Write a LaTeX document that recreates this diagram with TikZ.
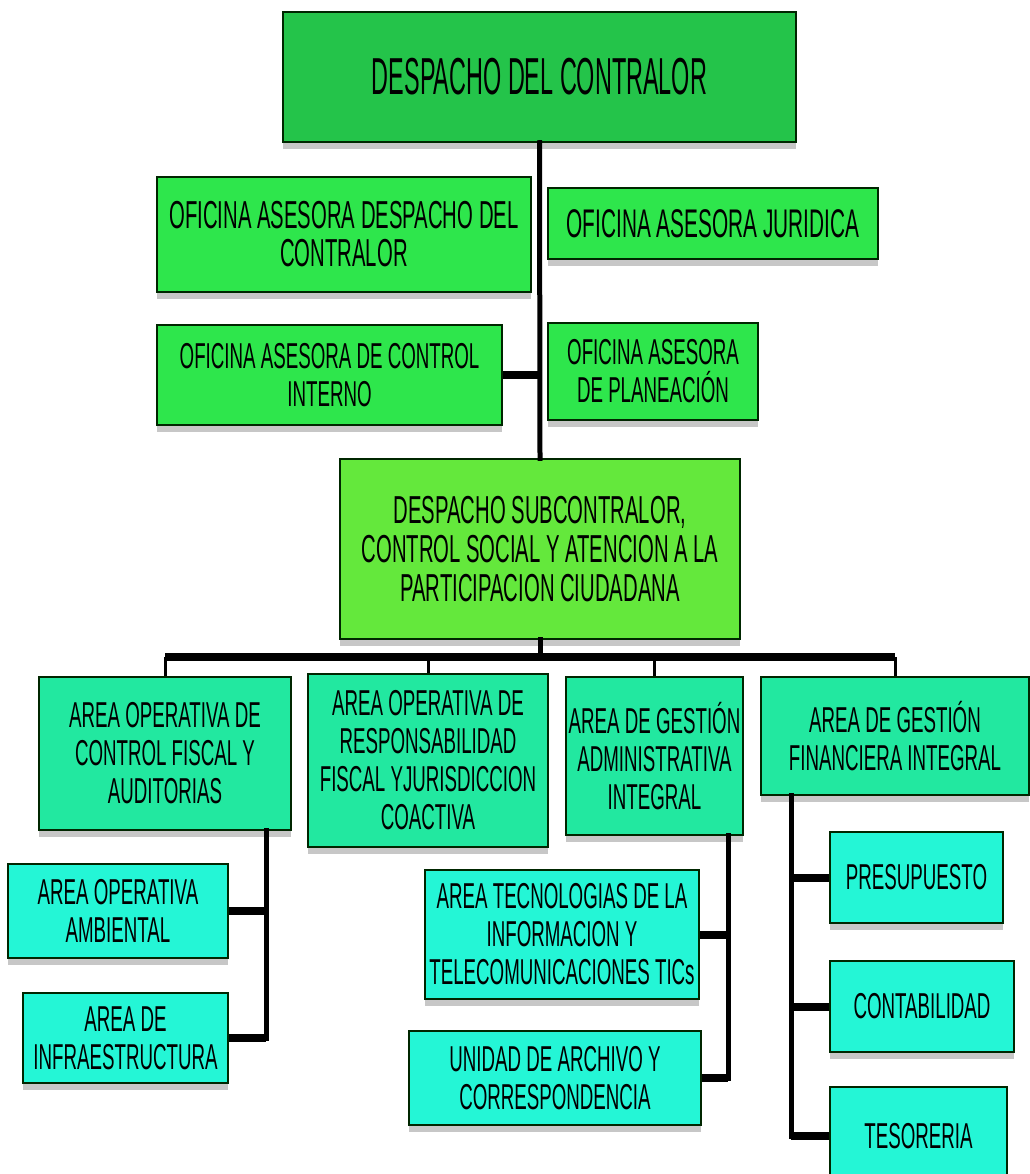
\documentclass[tikz,border=0pt]{standalone}
\usepackage{fontspec}
\usepackage{tikz}
\newfontfamily\orgfont{Liberation Sans}[FakeStretch=0.52]
\newfontfamily\titfont{Liberation Sans}[FakeStretch=0.45]
\usetikzlibrary{positioning,shadows}

\definecolor{verdeTop}{RGB}{36,196,74}
\definecolor{verdeAses}{RGB}{46,230,76}
\definecolor{verdeSub}{RGB}{100,232,60}
\definecolor{verdeArea}{RGB}{34,232,160}
\definecolor{cianGrupo}{RGB}{36,246,214}

\tikzset{
  caja/.style={draw=black!85!green, line width=1.5pt, align=center, inner sep=1pt,
    font=\orgfont\fontsize{36}{38}\selectfont,
    drop shadow={shadow xshift=0pt, shadow yshift=-7pt, opacity=0.22, fill=black}},
  tam/.style 2 args={minimum width=#1pt, minimum height=#2pt},
  despacho/.style={caja, fill=verdeTop},
  asesora/.style={caja, fill=verdeAses},
  subdesp/.style={caja, fill=verdeSub},
  area/.style={caja, fill=verdeArea},
  grupo/.style={caja, fill=cianGrupo},
  linea/.style={line width=5pt, line cap=rect},
  barra/.style={line width=8pt},
  bajada/.style={line width=3pt},
}

\begin{document}
\begin{tikzpicture}[x=1pt, y=-1pt]
  \useasboundingbox (0,0) rectangle (1029,1174);
  %Define the boxes first, top to bottom.
  \node[despacho, tam={513}{130}, font=\titfont\fontsize{52}{56}\selectfont] (desp) at (539.5,77) {DESPACHO DEL CONTRALOR}; %This is the head box
  %advisory offices on both sides of the spine
  \node[asesora, tam={374}{115}, font=\orgfont\fontsize{39}{38}\selectfont] (oadc) at (344,234.5) {OFICINA ASESORA DESPACHO DEL\\CONTRALOR};
  \node[asesora, tam={330}{71}, font=\orgfont\fontsize{40}{38}\selectfont] (oaj) at (713,223.5) {OFICINA ASESORA JURIDICA};
  \node[asesora, tam={345}{100}] (oaci) at (329.5,375) {OFICINA ASESORA DE CONTROL\\INTERNO};
  \node[asesora, tam={210}{97}] (oap) at (653,371.5) {OFICINA ASESORA\\DE PLANEACIÓN};
  %second level
  \node[subdesp, tam={400}{180}, font=\orgfont\fontsize{39}{39}\selectfont] (sub) at (540,549)
    {DESPACHO SUBCONTRALOR,\\CONTROL SOCIAL Y ATENCION A LA\\PARTICIPACION CIUDADANA};
  %the four areas
  \node[area, tam={252}{153}] (a1) at (165,753.5) {AREA OPERATIVA DE\\CONTROL FISCAL Y\\AUDITORIAS};
  \node[area, tam={240}{173}] (a2) at (428,760.5) {AREA OPERATIVA DE\\RESPONSABILIDAD\\FISCAL YJURISDICCION\\COACTIVA};
  \node[area, tam={177}{158}] (a3) at (654.5,756) {AREA DE GESTIÓN\\ADMINISTRATIVA\\INTEGRAL};
  \node[area, tam={268}{118}] (a4) at (895,736) {AREA DE GESTIÓN\\FINANCIERA INTEGRAL};
  %units under each area
  \node[grupo, tam={220}{94}] (amb) at (118,911) {AREA OPERATIVA\\AMBIENTAL};
  \node[grupo, tam={205}{90}] (infra) at (125.5,1038) {AREA DE\\INFRAESTRUCTURA};
  \node[grupo, tam={274}{129}] (tics) at (562,934.5) {AREA TECNOLOGIAS DE LA\\INFORMACION Y\\TELECOMUNICACIONES TICs};
  \node[grupo, tam={292}{94}] (arch) at (555,1078) {UNIDAD DE ARCHIVO Y\\CORRESPONDENCIA};
  \node[grupo, tam={173}{91}] (pres) at (916.5,877.5) {PRESUPUESTO};
  \node[grupo, tam={184}{91}] (cont) at (922,1006.5) {CONTABILIDAD};
  \node[grupo, tam={177}{98}] (teso) at (918.5,1136) {TESORERIA};

  %main spine
  \draw[linea] (desp.south) -- (sub.north);
  \draw[barra] (oaci.east) -- (oaci.east -| desp.south);
  %bar over the areas
  \coordinate (bi) at (165,657); %left end of the bar
  \coordinate (bd) at (895,657); %right end of the bar
  \draw[linea] (sub.south) -- (sub.south |- bi);
  \draw[barra] (bi) -- (bd);
  \foreach \a in {a1,a2,a3,a4}
    \draw[bajada] (\a.north) -- (\a.north |- bi);
  %branches down to the units
  \coordinate (r1) at (266,0);
  \coordinate (r3) at (728,0);
  \coordinate (r4) at (791,0);
  \draw[linea] (a1.south -| r1) -- (r1 |- infra.east);
  \draw[barra] (amb.east) -- (amb.east -| r1);
  \draw[barra] (infra.east) -- (infra.east -| r1);
  \draw[linea] (a3.south -| r3) -- (r3 |- arch.east);
  \draw[barra] (tics.east) -- (tics.east -| r3);
  \draw[barra] (arch.east) -- (arch.east -| r3);
  \draw[linea] (a4.south -| r4) -- (r4 |- teso.west);
  \foreach \u in {pres,cont,teso}
    \draw[barra] (\u.west) -- (\u.west -| r4);
\end{tikzpicture}
\end{document}
